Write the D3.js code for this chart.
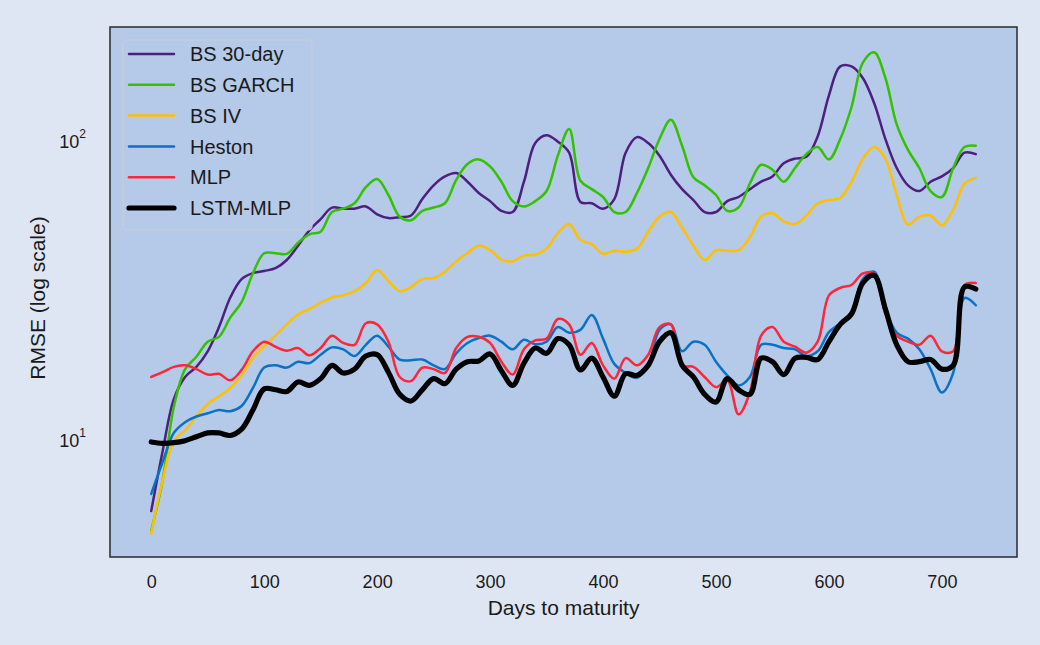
<!DOCTYPE html>
<html><head><meta charset="utf-8">
<script src="https://cdn.jsdelivr.net/npm/d3@7"></script>
<style>
html,body{margin:0;padding:0;background:#dfe6f3;}
svg{display:block;font-family:"Liberation Sans",Arial,sans-serif;}
</style></head><body>
<svg id="chart" width="1040" height="645"></svg>
<script>
const days = d3.range(0, 731, 10);
const seriesNames = ["BS 30-day", "BS GARCH", "BS IV", "Heston", "MLP", "LSTM-MLP"];
const seriesColors = ["#4f1f80", "#33c200", "#ffc000", "#0a72c4", "#ff2638", "#000000"];
const xTicks = [0, 100, 200, 300, 400, 500, 600, 700];
const yTicks = [10, 100];

const bs30 = [5.7,9.0,13.5,16.0,17.3,19.5,23.5,29.5,34.0,35.6,36.2,37.0,39.4,44.0,49.5,54.0,59.0,58.5,58.5,59.5,
  56.0,54.4,54.8,55.5,63.0,70.0,75.0,77.0,72.0,66.0,62.0,57.5,57.0,72.0,97.0,103.0,98.0,90.0,61.6,61.0,
  58.5,63.0,90.0,101.5,97.0,88.0,76.0,68.0,62.5,57.0,57.0,62.0,64.0,68.0,72.0,75.0,83.0,86.0,87.2,102.0,
  140.0,175.0,175.0,160.0,132.0,100.0,80.0,70.0,67.0,72.0,75.0,80.0,90.0,89.0];
const bsGarch = [4.9,7.2,12.7,17.0,18.7,21.0,21.8,25.3,28.5,35.5,41.5,41.5,41.3,45.0,48.0,49.0,57.0,58.5,61.0,69.0,
  73.5,65.0,55.0,53.5,57.5,59.0,61.0,73.0,82.5,85.5,81.0,72.0,62.0,59.5,62.0,67.0,88.0,108.0,72.5,68.0,
  64.0,57.0,57.0,66.0,80.0,100.0,116.0,95.0,74.5,70.0,65.0,57.5,59.0,71.0,82.0,79.0,72.0,80.0,89.0,94.0,
  85.5,100.0,128.0,180.0,195.0,160.0,112.0,92.0,80.0,67.0,64.0,80.0,94.0,95.0];
const bsIV = [4.8,7.2,9.8,10.6,11.8,13.0,13.8,14.7,16.2,18.5,20.3,22.0,24.0,25.9,27.0,28.3,29.5,30.0,31.0,33.0,
  36.5,33.5,31.0,32.0,34.0,34.3,36.0,39.0,41.6,44.0,42.5,39.5,39.0,40.8,41.0,43.0,48.5,52.0,46.0,44.5,
  41.3,42.3,42.0,43.0,49.0,55.0,57.0,50.5,44.0,39.4,42.5,42.3,42.5,47.0,55.0,56.5,53.0,52.0,55.5,61.0,
  62.5,63.5,72.0,86.0,94.0,86.0,65.0,51.7,55.0,55.5,51.5,58.0,71.0,74.0];
const heston = [6.5,8.3,10.4,11.3,11.8,12.1,12.4,12.3,12.8,14.7,17.2,17.5,17.2,18.0,17.8,19.0,20.1,19.8,18.8,20.5,
  22.0,20.2,18.3,18.2,18.3,17.5,17.0,19.2,20.8,21.6,22.0,21.0,19.8,21.3,20.6,21.0,23.5,22.5,23.0,25.8,
  21.5,17.7,16.5,15.9,17.5,23.0,24.0,19.5,21.0,20.5,18.0,16.2,15.0,16.0,20.5,20.5,20.0,19.8,18.8,19.5,
  22.6,24.2,26.5,34.0,36.0,27.0,22.5,21.5,19.8,17.0,14.2,16.5,29.4,27.8];
const mlp = [16.0,16.6,17.3,17.5,17.0,16.3,16.4,15.6,16.9,19.5,21.0,20.2,19.6,20.0,18.9,20.0,22.0,20.8,20.5,24.2,
  24.0,21.0,16.0,15.5,17.2,17.0,16.5,20.0,21.8,21.8,20.8,18.0,16.3,19.8,21.2,21.5,25.0,24.0,19.0,20.8,
  17.5,15.8,18.5,17.5,19.0,23.5,24.0,17.5,17.3,16.0,14.8,15.6,12.0,14.2,22.0,23.5,21.0,20.2,19.3,21.0,
  30.0,31.8,32.5,35.5,35.5,26.0,22.0,21.0,20.5,22.0,19.5,19.5,32.5,33.0];
const lstmMlp = [9.7,9.6,9.65,9.8,10.1,10.4,10.4,10.2,10.7,12.4,14.6,14.5,14.3,15.4,15.0,15.8,17.5,16.5,17.0,18.8,
  19.0,16.6,14.0,13.3,14.5,15.8,15.2,17.0,18.0,18.1,19.1,16.8,15.0,17.8,20.0,19.2,21.5,20.5,16.9,18.5,
  16.0,13.8,16.4,16.2,17.5,21.0,22.5,17.5,16.0,14.0,13.2,15.8,14.5,14.0,18.5,18.0,16.3,18.5,18.6,18.3,
  21.0,24.0,26.0,33.0,35.0,27.0,20.5,18.0,18.0,18.3,17.0,17.5,32.0,31.5];

const seriesValues = [bs30, bsGarch, bsIV, heston, mlp, lstmMlp];
const seriesWidths = [2.5, 2.5, 2.5, 2.5, 2.5, 5.2];

const svg = d3.select("#chart");
const L = 110, R = 1017, T = 27, B = 557;

const x = d3.scaleLinear().domain([-36.5, 766.5]).range([L, R]);
const y = d3.scaleLog().domain([4.0, 237]).range([B, T]);

svg.append("rect").attr("x", L).attr("y", T).attr("width", R - L).attr("height", B - T)
  .attr("fill", "#b5c9e8");

svg.append("clipPath").attr("id", "clip").append("rect")
  .attr("x", L).attr("y", T).attr("width", R - L).attr("height", B - T);

const line = d3.line().x((d, i) => x(days[i])).y(d => y(d)).curve(d3.curveCatmullRom.alpha(0.5));

const g = svg.append("g").attr("clip-path", "url(#clip)");
seriesValues.forEach((vals, k) => {
  g.append("path").datum(vals).attr("d", line)
    .attr("fill", "none").attr("stroke", seriesColors[k])
    .attr("stroke-width", seriesWidths[k]).attr("stroke-linejoin", "round").attr("stroke-linecap", "round");
});

svg.append("rect").attr("x", L).attr("y", T).attr("width", R - L).attr("height", B - T)
  .attr("fill", "none").attr("stroke", "#2a2a2a").attr("stroke-width", 1.5);

// x axis
const xAxis = d3.axisBottom(x).tickValues(xTicks).tickSize(0).tickPadding(0).tickFormat(d3.format("d"));
const xg = svg.append("g").attr("transform", `translate(0,${B})`).call(xAxis);
xg.select(".domain").remove();
xg.selectAll("text").attr("y", 31).attr("dy", null).attr("font-size", 18)
  .attr("font-family", "'Liberation Sans',Arial,sans-serif").attr("fill", "#1a1a1a");

// y axis
const yAxis = d3.axisLeft(y).tickValues(yTicks).tickSize(0).tickFormat(() => "");
const yg = svg.append("g").attr("transform", `translate(${L},0)`).call(yAxis);
yg.select(".domain").remove();
yg.selectAll(".tick text").remove();
yg.selectAll(".tick").append("text")
  .attr("x", -24).attr("y", 2).attr("dy", "0.35em").attr("text-anchor", "end")
  .attr("font-size", 18).attr("fill", "#1a1a1a")
  .each(function (d) {
    const t = d3.select(this);
    t.append("tspan").text("10");
    t.append("tspan").attr("dy", -10).attr("font-size", 12).text(Math.round(Math.log10(d)));
  });

svg.append("text").attr("x", (x(0) + x(700)) / 2 + 17).attr("y", 615)
  .attr("text-anchor", "middle").attr("font-size", 21).attr("fill", "#1a1a1a")
  .text("Days to maturity");

svg.append("text").attr("transform", `translate(45,${(T + B) / 2 + 6}) rotate(-90)`)
  .attr("text-anchor", "middle").attr("font-size", 21).attr("fill", "#1a1a1a")
  .text("RMSE (log scale)");

// legend
const lg = svg.append("g");
lg.append("rect").attr("x", 123).attr("y", 40).attr("width", 189).attr("height", 190).attr("rx", 4)
  .attr("fill", "#b5c9e8").attr("fill-opacity", 0.85).attr("stroke", "#c9cdd4").attr("stroke-width", 1.2);
seriesNames.forEach((name, k) => {
  const yy = 54 + k * 30.8;
  lg.append("line").attr("x1", 129).attr("x2", 174).attr("y1", yy).attr("y2", yy)
    .attr("stroke", seriesColors[k]).attr("stroke-width", seriesWidths[k]).attr("stroke-linecap", "round");
  lg.append("text").attr("x", 190).attr("y", yy).attr("dy", "0.36em")
    .attr("font-size", 20).attr("fill", "#1a1a1a").text(name);
});
</script>
</body></html>
